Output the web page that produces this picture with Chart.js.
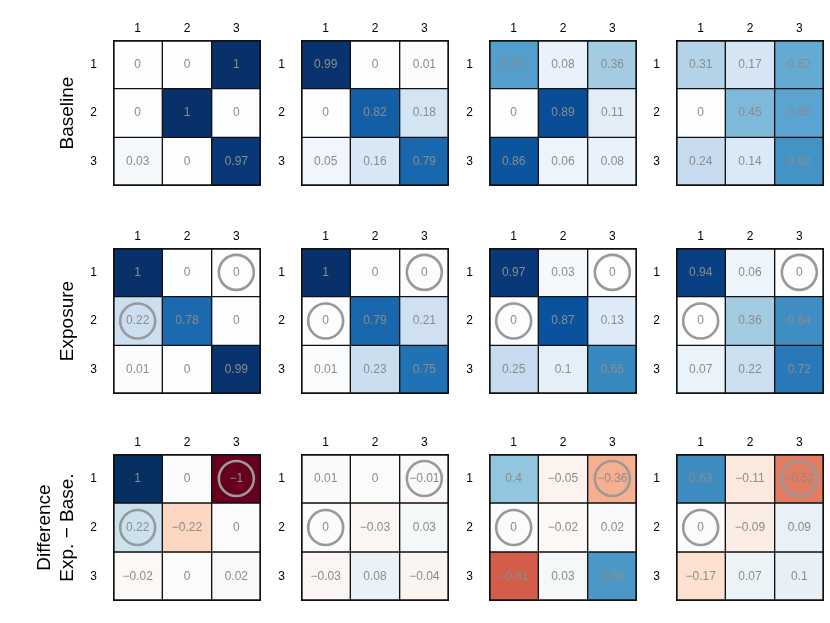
<!DOCTYPE html>
<html>
<head>
<meta charset="utf-8">
<script src="https://cdn.jsdelivr.net/npm/chart.js@4.4.1/dist/chart.umd.min.js"></script>
<style>
  html, body { margin: 0; padding: 0; background: #ffffff; }
  #wrap { position: relative; width: 830px; height: 623px; overflow: hidden; }
  #wrap canvas { position: absolute; }
</style>
</head>
<body>
<div id="wrap"></div>
<script>
// Tick labels of every 3x3 panel
const colLabels = ["1", "2", "3"];
const rowLabels = ["1", "2", "3"];

// Row titles (left side)
const rowTitles = ["Baseline", "Exposure", ["Difference", "Exp. \u2212 Base."]];

// Baseline matrices, one per column panel
const baseline = [
    [[0, 0, 1], [0, 1, 0], [0.03, 0, 0.97]],
    [[0.99, 0, 0.01], [0, 0.82, 0.18], [0.05, 0.16, 0.79]],
    [[0.57, 0.08, 0.36], [0, 0.89, 0.11], [0.86, 0.06, 0.08]],
    [[0.31, 0.17, 0.52], [0, 0.45, 0.55], [0.24, 0.14, 0.62]],
];

// Exposure matrices
const exposure = [
    [[1, 0, 0], [0.22, 0.78, 0], [0.01, 0, 0.99]],
    [[1, 0, 0], [0, 0.79, 0.21], [0.01, 0.23, 0.75]],
    [[0.97, 0.03, 0], [0, 0.87, 0.13], [0.25, 0.1, 0.66]],
    [[0.94, 0.06, 0], [0, 0.36, 0.64], [0.07, 0.22, 0.72]],
];

// Difference (Exp. - Base.) matrices
const difference = [
    [[1, 0, -1], [0.22, -0.22, 0], [-0.02, 0, 0.02]],
    [[0.01, 0, -0.01], [0, -0.03, 0.03], [-0.03, 0.08, -0.04]],
    [[0.4, -0.05, -0.36], [0, -0.02, 0.02], [-0.61, 0.03, 0.58]],
    [[0.63, -0.11, -0.52], [0, -0.09, 0.09], [-0.17, 0.07, 0.1]],
];

// Cells marked with a ring (row, col) in the exposure and difference rows
const circled = [[0, 2], [1, 0]];

// Colour ramps
const blues = ["#fcfdfe", "#deebf7", "#c6dbef", "#9ecae1", "#6baed6", "#4292c6", "#2171b5", "#08519c", "#08306b"];
const rdbu = ["#67001f", "#b2182b", "#d6604d", "#f4a582", "#fddbc7", "#fbfbfb", "#d1e5f0", "#92c5de", "#4393c3", "#2166ac", "#053061"];

function hexToRgb(h) {
    return [parseInt(h.slice(1, 3), 16), parseInt(h.slice(3, 5), 16), parseInt(h.slice(5, 7), 16)];
}

function ramp(stops, t) {
    t = Math.max(0, Math.min(1, t));
    const pos = t * (stops.length - 1);
    const i = Math.min(Math.floor(pos), stops.length - 2);
    const f = pos - i;
    const a = hexToRgb(stops[i]);
    const b = hexToRgb(stops[i + 1]);
    const c = a.map((v, k) => Math.round(v + (b[k] - v) * f));
    return `rgb(${c[0]}, ${c[1]}, ${c[2]})`;
}

const blueColor = (v) => ramp(blues, v);
const divColor = (v) => ramp(rdbu, (v + 1) / 2);

function fmt(v) {
    return String(v).replace("-", "\u2212");
}

Chart.defaults.font.family = "'Liberation Sans', Arial, sans-serif";
Chart.defaults.color = "#000000";

// Writes the value in each cell and draws the rings
const cellText = {
    id: "cellText",
    afterDatasetsDraw(chart) {
        const ctx = chart.ctx;
        const opts = chart.options.plugins.cellText;
        ctx.save();
        chart.data.datasets.forEach((ds, r) => {
            const meta = chart.getDatasetMeta(r);
            meta.data.forEach((bar, c) => {
                const p = bar.getCenterPoint();
                ctx.fillStyle = "#8c8c8c";
                ctx.font = "12px 'Liberation Sans', Arial, sans-serif";
                ctx.textAlign = "center";
                ctx.textBaseline = "middle";
                ctx.fillText(fmt(ds.values[c]), p.x, p.y);
                if (opts.rings && opts.rings.some((m) => m[0] === r && m[1] === c)) {
                    ctx.beginPath();
                    ctx.arc(p.x, p.y, 17.5, 0, Math.PI * 2);
                    ctx.lineWidth = 2.6;
                    ctx.strokeStyle = "#999999";
                    ctx.stroke();
                }
            });
        });
        ctx.restore();
    },
};

const panelLefts = [113, 301, 489, 676];
const panelTops = [40, 248, 454];
const panelW = 148;
const panelH = [146, 146, 147];

// thicker edge on the outside of the 3x3 block so the frame matches the inner lines
function cellBorder(r, c) {
    return {
        top: r === 0 ? 2 : 1,
        bottom: r === rowLabels.length - 1 ? 2 : 1,
        left: c === 0 ? 2 : 1,
        right: c === colLabels.length - 1 ? 2 : 1,
    };
}

function makePanel(r, c, matrix, colorFn, rings) {
    const yW = c === 0 ? 113 : 30;
    const xH = 22;
    const canvas = document.createElement("canvas");
    canvas.width = yW + panelW + 2;
    canvas.height = xH + panelH[r] + 2;
    canvas.style.left = (panelLefts[c] - yW) + "px";
    canvas.style.top = (panelTops[r] - xH) + "px";
    document.getElementById("wrap").appendChild(canvas);

    const title = rowTitles[r];
    new Chart(canvas.getContext("2d"), {
        type: "bar",
        data: {
            labels: colLabels,
            datasets: matrix.map((row, i) => ({
                data: row.map(() => [i + 0.5, i + 1.5]),
                values: row,
                backgroundColor: row.map(colorFn),
                borderColor: "#111111",
                borderWidth: row.map((_, j) => cellBorder(i, j)),
                borderSkipped: false,
                barPercentage: 1,
                categoryPercentage: 1,
                grouped: false,
            })),
        },
        options: {
            responsive: false,
            animation: false,
            layout: { padding: { left: 0, top: 0, right: 2, bottom: 2 } },
            plugins: {
                legend: { display: false },
                tooltip: { enabled: false },
                cellText: { rings: rings },
            },
            scales: {
                x: {
                    type: "category",
                    position: "top",
                    offset: true,
                    grid: { display: false, drawTicks: false },
                    border: { display: false },
                    ticks: { padding: 4.5, font: { size: 12 }, color: "#000000" },
                    afterFit: (s) => {
                        s.height = xH;
                        s.paddingLeft = 0;
                        s.paddingRight = 0;
                    },
                },
                y: {
                    type: "linear",
                    reverse: true,
                    min: 0.5,
                    max: 3.5,
                    grid: { display: false, drawTicks: false },
                    border: { display: false },
                    ticks: {
                        padding: 16,
                        font: { size: 12 },
                        color: "#000000",
                        callback: (v) => rowLabels[Math.round(v) - 1],
                    },
                    afterBuildTicks: (s) => {
                        s.ticks = rowLabels.map((_, i) => ({ value: i + 1 }));
                    },
                    afterFit: (s) => {
                        s.width = yW;
                        s.paddingTop = 0;
                        s.paddingBottom = 0;
                    },
                    title: {
                        display: c === 0,
                        text: title,
                        color: "#000000",
                        font: { size: 19, lineHeight: 1.2 },
                        padding: { top: Array.isArray(title) ? 33.6 : 56.6, bottom: 0 },
                    },
                },
            },
        },
        plugins: [cellText],
    });
}

document.addEventListener("DOMContentLoaded", () => {
    for (let c = 0; c < 4; c++) {
        makePanel(0, c, baseline[c], blueColor, null);
        makePanel(1, c, exposure[c], blueColor, circled);
        makePanel(2, c, difference[c], divColor, circled);
    }
});
</script>
</body>
</html>
